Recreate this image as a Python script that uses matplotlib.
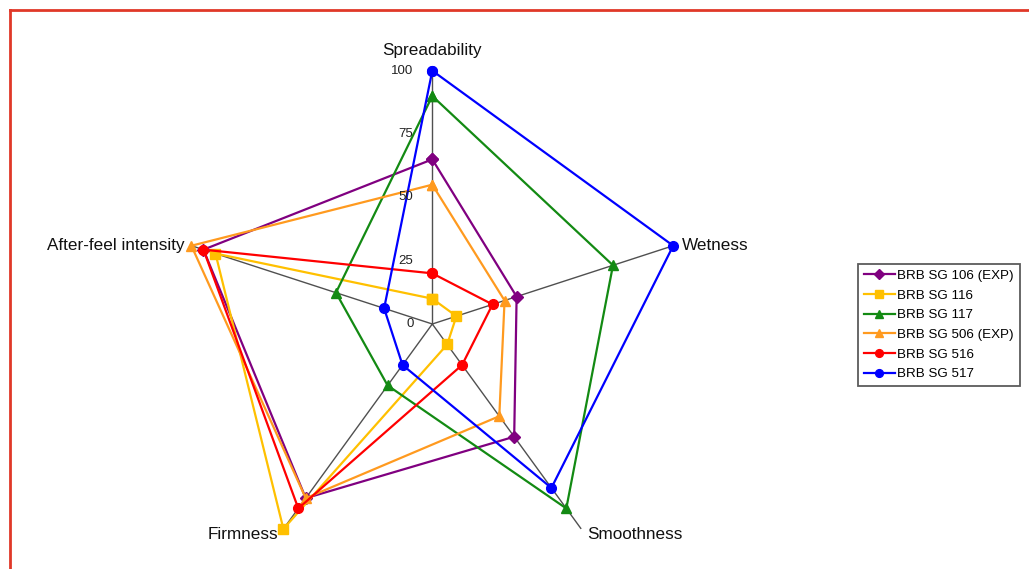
import numpy as np
import matplotlib.pyplot as plt
from matplotlib.lines import Line2D
from matplotlib.transforms import offset_copy

plt.rcParams['font.family'] = ['Liberation Sans', 'DejaVu Sans']

# attributes, clockwise from the top
categories = ['Spreadability', 'Wetness', 'Smoothness', 'Firmness', 'After-feel intensity']
series_names = ['BRB SG 106 (EXP)', 'BRB SG 116', 'BRB SG 117',
                'BRB SG 506 (EXP)', 'BRB SG 516', 'BRB SG 517']
sg106 = [65, 35, 55, 85, 95]
sg116 = [10, 10, 10, 100, 90]
sg117 = [90, 75, 90, 30, 40]
sg506 = [55, 30, 45, 85, 100]
sg516 = [20, 25, 20, 90, 95]
sg517 = [100, 100, 80, 20, 20]
r_ticks = [0, 25, 50, 75, 100]

values = [sg106, sg116, sg117, sg506, sg516, sg517]
colors = ['#800080', '#FFC000', '#138A13', '#FF9A1F', '#FF0000', '#0000FF']
markers = ['D', 's', '^', '^', 'o', 'o']
msizes = [6, 6.5, 7, 7, 7, 7]

fig = plt.figure(figsize=(10.29, 5.69), dpi=100)
# centre at (432, 324) px, radius 253 px
ax = fig.add_axes([179 / 1029, -8.3 / 569, 506.6 / 1029, 506.6 / 569], projection='polar')
ax.set_theta_offset(np.pi / 2)
ax.set_theta_direction(-1)

n = len(categories)
angles = np.arange(n) * 2 * np.pi / n
ax.set_ylim(0, 100)
ax.set_xticks(angles)
ax.set_xticklabels([])
ax.set_yticks(r_ticks)
ax.set_yticklabels([])
ax.yaxis.grid(False)
ax.xaxis.grid(True, color='#505050', linewidth=1.0)
ax.spines['polar'].set_visible(False)
ax.patch.set_alpha(0)

for name, vals, c, m, ms in zip(series_names, values, colors, markers, msizes):
    th = np.append(angles, angles[0])
    rr = np.append(vals, vals[0])
    ax.plot(th, rr, color=c, linewidth=1.6, marker=m, markersize=ms,
            markeredgecolor=c, label=name, zorder=3, clip_on=False)

# radial tick labels to the left of the top spoke
tr = offset_copy(ax.transData, fig=fig, x=-13.5, y=0, units='points')
for t in r_ticks:
    ax.text(0, t, str(t), transform=tr, ha='right', va='center', fontsize=9.5, color='#222222')

# category labels
offsets = [(0, 9, 'center', 'bottom'), (6, 0, 'left', 'center'),
           (4, -4, 'left', 'center'), (-4, -4, 'right', 'center'),
           (-5, 0, 'right', 'center')]
for a, lab, (dx, dy, ha, va) in zip(angles, categories, offsets):
    t = offset_copy(ax.transData, fig=fig, x=dx, y=dy, units='points')
    ax.text(a, 100, lab, transform=t, ha=ha, va=va, fontsize=12.3, color='#111111')

leg = fig.legend(loc='center left', bbox_to_anchor=(858 / 1029, 1 - 325 / 569),
                 fontsize=9.6, frameon=True, fancybox=False, handlelength=2.3,
                 handletextpad=0.2, borderpad=0.45, labelspacing=0.55, borderaxespad=0,
                 markerscale=0.8)
leg.get_frame().set_edgecolor('#333333')
leg.get_frame().set_linewidth(1.3)

# red frame of the screenshot (top and left edges)
fig.add_artist(Line2D([9.5 / 1029, 1], [1 - 10.3 / 569, 1 - 10.3 / 569],
                      transform=fig.transFigure, color='#E03828', linewidth=2))
fig.add_artist(Line2D([10.3 / 1029, 10.3 / 1029], [0, 1 - 9.5 / 569],
                      transform=fig.transFigure, color='#E03828', linewidth=2))

fig.savefig('out.png', dpi=100)
